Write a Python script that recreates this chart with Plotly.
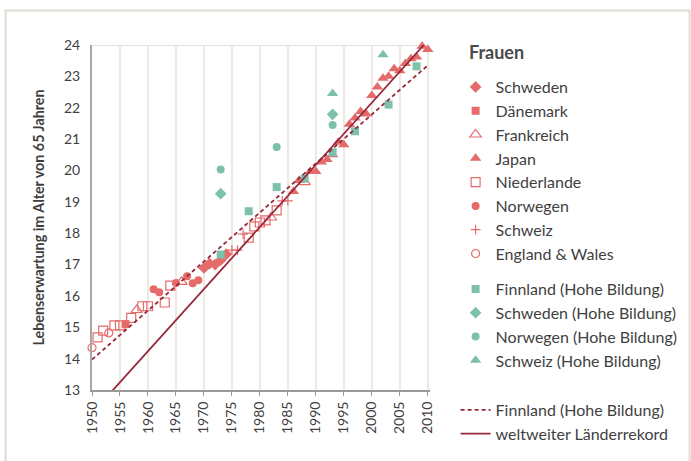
import plotly.graph_objects as go

# ---------------- data ----------------
schweden_x = [1970, 1971, 1972, 1973, 1974]
schweden_y = [16.89, 17.03, 17.0, 17.14, 17.33]

daenemark_x = [1956]
daenemark_y = [15.1]

frankreich_x = [1958, 1966, 1982, 1988]
frankreich_y = [15.55, 16.45, 18.5, 19.63]

japan_x = [1986, 1987, 1989, 1990, 1991, 1992, 1993, 1994, 1995, 1996, 1997, 1998,
           1999, 2000, 2001, 2002, 2003, 2004, 2005, 2006, 2007, 2008, 2009, 2010]
japan_y = [19.33, 19.68, 19.97, 19.97, 20.27, 20.35, 20.5, 20.9, 20.82, 21.47, 21.67, 21.88,
           21.8, 22.39, 22.66, 22.94, 23.0, 23.24, 23.18, 23.41, 23.56, 23.62, 23.96, 23.86]

niederlande_x = [1951, 1952, 1954, 1955, 1957, 1959, 1960, 1963, 1964, 1978, 1979, 1980, 1981, 1983]
niederlande_y = [14.68, 14.89, 15.06, 15.06, 15.3, 15.67, 15.67, 15.79, 16.33, 17.86, 18.22, 18.34, 18.41, 18.73]

norwegen_x = [1961, 1962, 1965, 1967, 1968, 1969]
norwegen_y = [16.21, 16.12, 16.41, 16.63, 16.4, 16.5]

schweiz_x = [1975, 1976, 1977, 1984, 1985]
schweiz_y = [17.46, 17.46, 17.97, 19.03, 19.03]

england_x = [1950, 1953]
england_y = [14.35, 14.82]

fin_hb_x = [1973, 1978, 1983, 1988, 1993, 1997, 2003, 2008]
fin_hb_y = [17.32, 18.7, 19.47, 19.74, 20.58, 21.25, 22.1, 23.32]

swe_hb_x = [1973, 1993]
swe_hb_y = [19.26, 21.79]

nor_hb_x = [1973, 1983, 1993]
nor_hb_y = [20.03, 20.75, 21.45]

sui_hb_x = [1993, 2002]
sui_hb_y = [22.45, 23.69]

fin_trend_x = [1950, 2010]
fin_trend_y = [13.97, 23.35]

record_x = [1953.5, 2009.3]
record_y = [12.95, 24.0]

x_ticks = [1950, 1955, 1960, 1965, 1970, 1975, 1980, 1985, 1990, 1995, 2000, 2005, 2010]
y_ticks = [13, 14, 15, 16, 17, 18, 19, 20, 21, 22, 23, 24]

# ---------------- styles ----------------
RED = "#e56b6b"
TEAL = "#7dc0ab"
DARK = "#97283a"
FONT = "Lato"
TXT = "#3f3f3f"

fig = go.Figure()

def pts(x, y, name, symbol, color, size, legend, lw=0):
    marker = dict(symbol=symbol, color=color, size=size)
    if lw:
        marker["line"] = dict(color=color, width=lw)
    else:
        marker["line"] = dict(width=0)
    fig.add_trace(go.Scatter(x=x, y=y, mode="markers", name=name, marker=marker,
                             legend=legend, cliponaxis=False))

pts(schweden_x, schweden_y, "Schweden", "diamond", RED, 9, "legend")
pts(daenemark_x, daenemark_y, "Dänemark", "square", RED, 8, "legend")
pts(frankreich_x, frankreich_y, "Frankreich", "triangle-up-open", RED, 10, "legend", 1.2)
pts(japan_x, japan_y, "Japan", "triangle-up", RED, 10, "legend")
pts(niederlande_x, niederlande_y, "Niederlande", "square-open", RED, 9, "legend", 1.2)
pts(norwegen_x, norwegen_y, "Norwegen", "circle", RED, 8, "legend")
pts(schweiz_x, schweiz_y, "Schweiz", "cross-thin-open", RED, 7, "legend", 1.2)
pts(england_x, england_y, "England & Wales", "circle-open", RED, 8, "legend", 1.2)

pts(fin_hb_x, fin_hb_y, "Finnland (Hohe Bildung)", "square", TEAL, 8, "legend2")
pts(swe_hb_x, swe_hb_y, "Schweden (Hohe Bildung)", "diamond", TEAL, 9, "legend2")
pts(nor_hb_x, nor_hb_y, "Norwegen (Hohe Bildung)", "circle", TEAL, 8, "legend2")
pts(sui_hb_x, sui_hb_y, "Schweiz (Hohe Bildung)", "triangle-up", TEAL, 10, "legend2")

fig.add_trace(go.Scatter(x=fin_trend_x, y=fin_trend_y, mode="lines", name="Finnland (Hohe Bildung)",
                         line=dict(color=DARK, width=1.8, dash="4px,3px"), legend="legend3"))
fig.add_trace(go.Scatter(x=record_x, y=record_y, mode="lines", name="weltweiter Länderrekord",
                         line=dict(color=DARK, width=1.8), legend="legend3"))

legfont = dict(family=FONT, size=16, color=TXT)
common = dict(xref="container", yref="container", xanchor="left", yanchor="top",
              bgcolor="rgba(0,0,0,0)", font=legfont, itemwidth=30, tracegroupgap=0,
              itemclick=False, itemdoubleclick=False)
LX = 0.655 + 3 / 691

fig.update_layout(
    width=691, height=461,
    margin=dict(l=91.5, r=261, t=44.5, b=71),
    paper_bgcolor="white", plot_bgcolor="white",
    showlegend=True,
    legend=dict(x=LX, y=1 - 70 / 461, **common),
    legend2=dict(x=LX, y=1 - 272 / 461, **common),
    legend3=dict(x=LX, y=1 - 393 / 461, **common),
    xaxis=dict(range=[1950, 2010.4], tickvals=x_ticks, ticktext=[str(t) for t in x_ticks],
               tickangle=-90, tickfont=dict(family=FONT, size=14, color=TXT),
               showgrid=True, gridcolor="#ebe9e2", gridwidth=1.5,
               showline=True, linecolor="#9a9a9a", linewidth=2,
               ticks="outside", ticklen=4, tickcolor="#9a9a9a", zeroline=False),
    yaxis=dict(range=[13, 24], tickvals=y_ticks, ticktext=[str(t) for t in y_ticks],
               tickfont=dict(family=FONT, size=14, color=TXT), ticklabelstandoff=7,
               showgrid=False, showline=True, linecolor="#a6a6a6", linewidth=2,
               ticks="", zeroline=False,
               title=dict(text="<b>Lebenserwartung im Alter von 65 Jahren</b>",
                          font=dict(family=FONT, size=14.3, color=TXT), standoff=16)),
    annotations=[dict(text="<b>Frauen</b>", xref="paper", yref="paper",
                      x=(467 - 91.5) / 338.5, y=(390 - 52) / 345.5,
                      xanchor="left", yanchor="middle", showarrow=False,
                      font=dict(family=FONT, size=18, color="#4a4a4a"))],
    shapes=[
        dict(type="line", xref="paper", yref="y", x0=0, x1=1, y0=24, y1=24,
             line=dict(color="#e4e2da", width=2), layer="below"),
        dict(type="rect", xref="paper", yref="paper",
             x0=(5 - 91.5) / 338.5, x1=(690 - 91.5) / 338.5,
             y0=-0.5, y1=(390 - 10) / 345.5,
             line=dict(color="#dedcd4", width=2), fillcolor="rgba(0,0,0,0)", layer="below"),
    ],
)

fig.write_html("out.html", config={"displayModeBar": False},
               post_script="document.body.style.margin='0';")
